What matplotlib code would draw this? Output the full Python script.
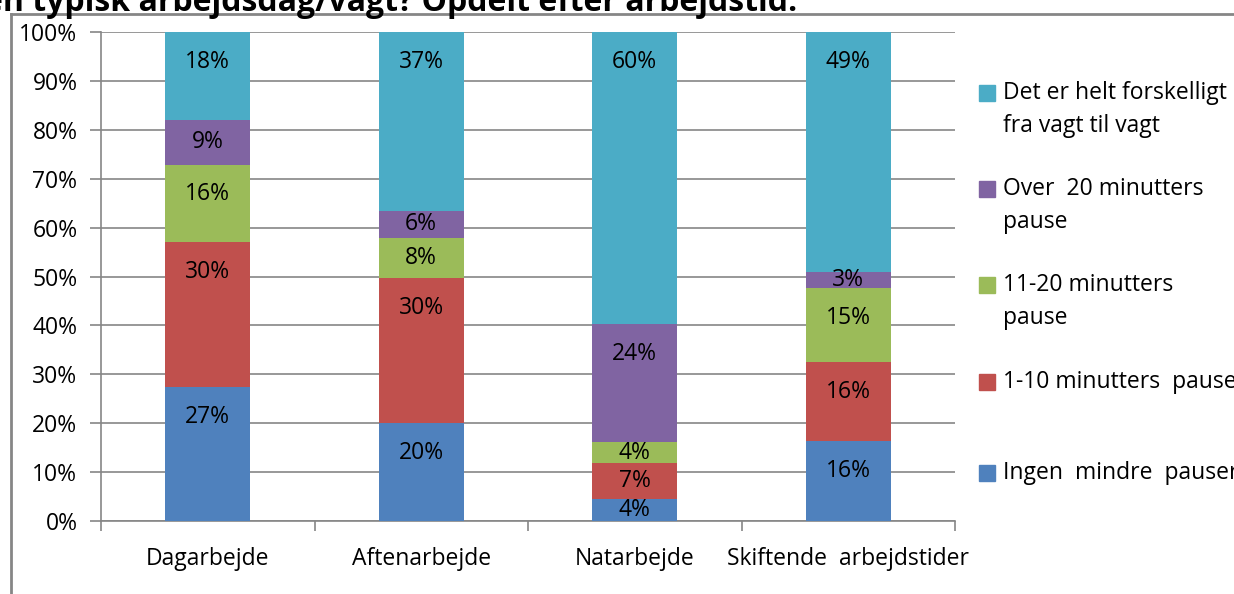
import matplotlib.pyplot as plt
from matplotlib.patches import Rectangle
from matplotlib.lines import Line2D

plt.rcParams['font.family'] = ['Open Sans', 'DejaVu Sans']

## data (percent)
categories = ["Dagarbejde", "Aftenarbejde", "Natarbejde", "Skiftende  arbejdstider"]
ingen = [27.4, 20.0, 4.4, 16.4]
min_1_10 = [29.6, 29.7, 7.4, 16.1]
min_11_20 = [15.9, 8.2, 4.4, 15.1]
over_20 = [9.1, 5.5, 24.0, 3.3]
forskelligt = [18.0, 36.6, 59.8, 49.1]

series_names = ["Ingen  mindre  pauser", "1-10 minutters  pause",
                "11-20 minutters\npause", "Over  20 minutters\npause",
                "Det er helt forskelligt\nfra vagt til vagt"]
colors = ["#4F81BD", "#C0504D", "#9BBB59", "#8064A2", "#4BACC6"]
yticks = [0, 10, 20, 30, 40, 50, 60, 70, 80, 90, 100]
title = "en typisk arbejdsdag/vagt? Opdelt efter arbejdstid."

W, H = 1234, 594
FS = 16.5
fig = plt.figure(figsize=(W / 100, H / 100), dpi=100)
ax = fig.add_axes([101 / W, (H - 521) / H, (955 - 101) / W, (521 - 32) / H])

series = [ingen, min_1_10, min_11_20, over_20, forskelligt]
x = list(range(len(categories)))
bottom = [0.0] * len(categories)
pad = 6.1  # label offset below segment top (data units)
for vals, col in zip(series, colors):
    ax.bar(x, vals, width=0.4, bottom=bottom, color=col, zorder=3)
    for i, v in enumerate(vals):
        top = bottom[i] + v
        off = min(pad, v / 2)
        ax.text(i, top - off, "%d%%" % round(v), ha="center", va="center",
                fontsize=FS, color="black", zorder=4)
    bottom = [b + v for b, v in zip(bottom, vals)]

ax.set_xlim(-0.5, len(categories) - 0.5)
ax.set_ylim(0, 100)
ax.set_yticks(yticks)
ax.set_yticklabels(["%d%%" % t for t in yticks], fontsize=FS)
ax.yaxis.grid(True, color="#868686", linewidth=1.2, zorder=0)
ax.tick_params(axis="y", length=8, width=1.2, color="#868686", pad=9)

# category ticks on boundaries, labels centred
ax.set_xticks([i - 0.5 for i in range(len(categories) + 1)])
ax.set_xticklabels([])
ax.set_xticks(x, minor=True)
ax.set_xticklabels(categories, minor=True, fontsize=FS)
ax.tick_params(axis="x", which="major", length=7, width=1.2, color="#868686")
ax.tick_params(axis="x", which="minor", length=0, pad=19)

for s in ["top", "right"]:
    ax.spines[s].set_visible(False)
for s in ["left", "bottom"]:
    ax.spines[s].set_color("#868686")
    ax.spines[s].set_linewidth(1.2)

# outer chart frame (top and left edges visible)
fig.add_artist(Line2D([11 / W, 1233 / W], [(H - 14) / H] * 2, color="#868686", lw=2))
fig.add_artist(Line2D([11 / W, 11 / W], [0, (H - 14) / H], color="#868686", lw=2))

# title, clipped at the top as in the source
fig.text(797 / W, (H - 11) / H, title, ha="right", va="baseline",
         fontsize=23, fontweight="bold")

# legend
leg_y = [473, 382, 285, 189, 93]
for name, col, yc in zip(series_names, colors, leg_y):
    fig.add_artist(Rectangle((979 / W, (H - yc - 8) / H), 16 / W, 16 / H,
                             color=col, transform=fig.transFigure))
    for k, line in enumerate(name.split("\n")):
        fig.text(1003 / W, (H - yc - 33 * k) / H, line, ha="left",
                 va="center", fontsize=FS)

fig.savefig("out.png", dpi=100)
